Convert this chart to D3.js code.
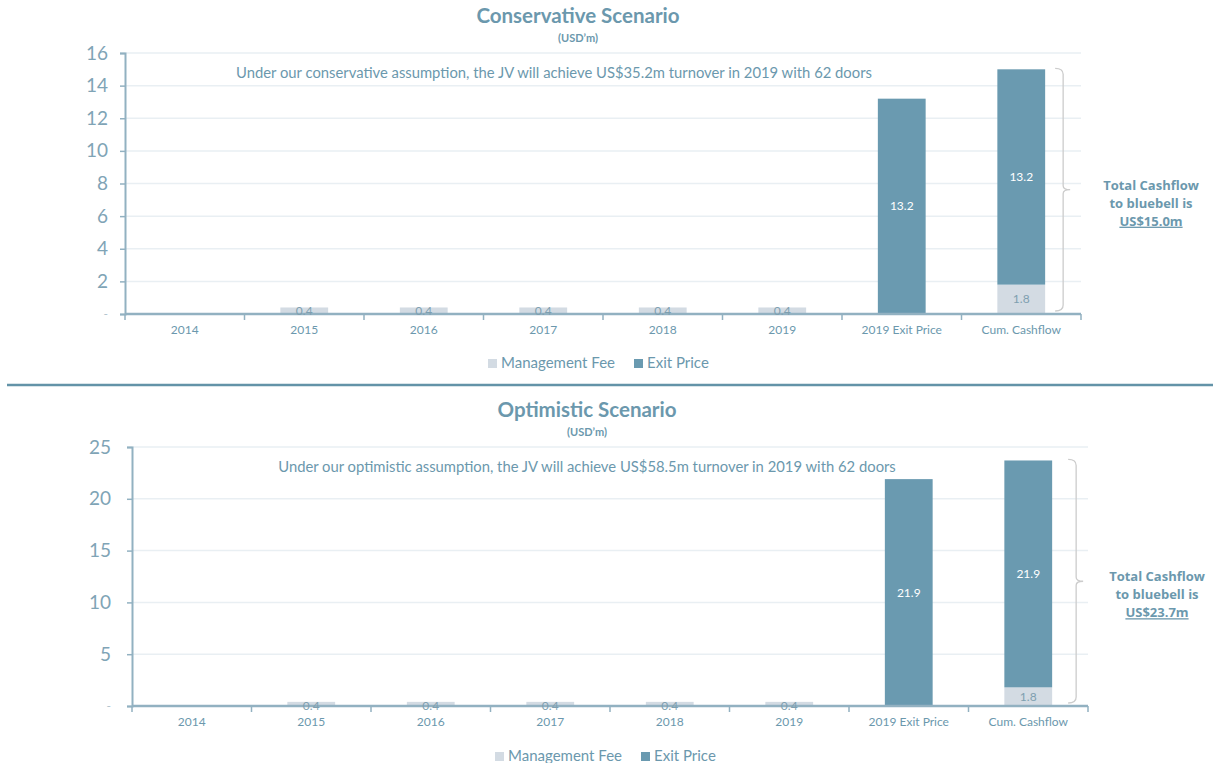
<!DOCTYPE html>
<html>
<head>
<meta charset="utf-8">
<script src="https://cdn.jsdelivr.net/npm/d3@7"></script>
<style>
  html, body { margin: 0; padding: 0; background: #ffffff; }
  svg { display: block; font-family: Lato, "Open Sans", sans-serif; }
</style>
</head>
<body>
<svg id="chart" width="1215" height="763"></svg>
<script>
// Categories shared by both scenarios
const categories = ["2014", "2015", "2016", "2017", "2018", "2019", "2019 Exit Price", "Cum. Cashflow"];

// Conservative scenario (USD'm)
const conservativeFee  = [0, 0.4, 0.4, 0.4, 0.4, 0.4, 0, 1.8];
const conservativeExit = [0, 0, 0, 0, 0, 0, 13.2, 13.2];
const conservativeTicks = [0, 2, 4, 6, 8, 10, 12, 14, 16];
const conservativeTotal = "US$15.0m";

// Optimistic scenario (USD'm)
const optimisticFee  = [0, 0.4, 0.4, 0.4, 0.4, 0.4, 0, 1.8];
const optimisticExit = [0, 0, 0, 0, 0, 0, 21.9, 21.9];
const optimisticTicks = [0, 5, 10, 15, 20, 25];
const optimisticTotal = "US$23.7m";

const seriesNames = ["Management Fee", "Exit Price"];

const COL_FEE = "#d3dbe3";
const COL_EXIT = "#6a9ab0";
const COL_TEXT = "#6b98ad";
const COL_AXIS = "#92b1c1";
const COL_GRID = "#e9eff3";

const svg = d3.select("#chart");

function drawPanel(cfg) {
  const g = svg.append("g");
  const x = d3.scaleBand()
    .domain(categories)
    .range([cfg.left, cfg.right])
    .paddingInner(0.6)
    .paddingOuter(0.3);
  const y = d3.scaleLinear()
    .domain([0, d3.max(cfg.ticks)])
    .range([cfg.bottom, cfg.top]);

  // Title and unit
  g.append("text").attr("x", cfg.titleX).attr("y", cfg.titleY)
    .attr("text-anchor", "middle").attr("font-size", 20.5).attr("font-weight", 700)
    .attr("fill", COL_TEXT).text(cfg.title);
  g.append("text").attr("x", cfg.titleX).attr("y", cfg.titleY + 19)
    .attr("text-anchor", "middle").attr("font-size", 11).attr("font-weight", 700)
    .attr("fill", COL_TEXT).text("(USD\u2019m)");

  // Gridlines
  g.append("g").selectAll("line").data(cfg.ticks.filter(t => t > 0)).join("line")
    .attr("x1", cfg.left).attr("x2", cfg.right)
    .attr("y1", d => y(d)).attr("y2", d => y(d))
    .attr("stroke", COL_GRID).attr("stroke-width", 1.5);

  // Y axis
  const yAxis = d3.axisLeft(y).tickValues(cfg.ticks)
    .tickFormat(d => d === 0 ? "-" : d3.format("d")(d))
    .tickSize(5).tickPadding(cfg.tickPad);
  const ya = g.append("g").attr("transform", `translate(${cfg.left},0)`).call(yAxis);
  ya.select(".domain").attr("stroke", COL_AXIS).attr("stroke-width", 2);
  ya.selectAll(".tick line").attr("stroke", COL_AXIS).attr("stroke-width", 1.5);
  ya.selectAll(".tick text").attr("fill", "#7fa4b6").attr("font-size", 19)
    .attr("font-family", "Lato, sans-serif")
    .filter(d => d === 0).attr("font-size", 12).attr("fill", "#b0c2cc");

  // Stacked bars
  const rows = categories.map((c, i) => ({ cat: c, fee: cfg.fee[i], exit: cfg.exit[i] }));
  const stack = d3.stack().keys(["fee", "exit"])(rows);
  const colors = { fee: COL_FEE, exit: COL_EXIT };
  stack.forEach(layer => {
    g.append("g").selectAll("rect").data(layer.filter(d => d[1] - d[0] > 0)).join("rect")
      .attr("x", d => x(d.data.cat))
      .attr("width", x.bandwidth())
      .attr("y", d => y(d[1]))
      .attr("height", d => y(d[0]) - y(d[1]))
      .attr("fill", colors[layer.key]);
  });

  // X axis
  const xa = g.append("g").attr("transform", `translate(0,${cfg.bottom})`);
  xa.append("line").attr("x1", cfg.left).attr("x2", cfg.right)
    .attr("stroke", COL_AXIS).attr("stroke-width", 2.5);
  const step = x.step();
  const bounds = d3.range(categories.length + 1).map(i => cfg.left + i * step);
  xa.selectAll("line.tk").data(bounds).join("line").attr("class", "tk")
    .attr("x1", d => d).attr("x2", d => d).attr("y1", 0).attr("y2", 6)
    .attr("stroke", COL_AXIS).attr("stroke-width", 1.5);
  xa.selectAll("text").data(categories).join("text")
    .attr("x", d => x(d) + x.bandwidth() / 2).attr("y", 20)
    .attr("text-anchor", "middle").attr("font-size", 12).attr("fill", COL_TEXT)
    .text(d => d);

  // Value labels
  stack.forEach(layer => {
    g.append("g").selectAll("text").data(layer.filter(d => d[1] - d[0] > 0)).join("text")
      .attr("x", d => x(d.data.cat) + x.bandwidth() / 2)
      .attr("y", d => {
        const h = y(d[0]) - y(d[1]);
        return h < 12 ? y(d[1]) + 8 : (y(d[0]) + y(d[1])) / 2 + 4;
      })
      .attr("text-anchor", "middle").attr("font-size", 12)
      .attr("fill", layer.key === "exit" ? "#ffffff" : "#7e9fb0")
      .text(d => d3.format(".1f")(d[1] - d[0]));
  });

  // Annotation line
  g.append("text").attr("x", cfg.noteX).attr("y", y(cfg.ticks[cfg.ticks.length - 1]) + 25)
    .attr("text-anchor", "middle").attr("font-size", 14.8).attr("fill", COL_TEXT)
    .text(cfg.note);

  // Brace around the cumulative bar
  const last = rows[rows.length - 1];
  const topY = y(last.fee + last.exit) - 1;
  const botY = cfg.bottom - 3;
  const bx = x("Cum. Cashflow") + x.bandwidth() + cfg.braceGap;
  const midY = (topY + botY) / 2;
  const path = d3.path();
  path.moveTo(bx - 8, topY);
  path.quadraticCurveTo(bx, topY, bx, topY + 6);
  path.lineTo(bx, midY - 4);
  path.quadraticCurveTo(bx, midY, bx + 7, midY);
  path.moveTo(bx + 7, midY);
  path.quadraticCurveTo(bx, midY, bx, midY + 4);
  path.lineTo(bx, botY - 6);
  path.quadraticCurveTo(bx, botY, bx - 8, botY);
  g.append("path").attr("d", path.toString()).attr("fill", "none")
    .attr("stroke", "#cccccc").attr("stroke-width", 1.3);

  const tb = g.append("text").attr("text-anchor", "middle").attr("font-size", 13)
    .attr("font-family", "'Open Sans', sans-serif")
    .attr("font-weight", 700).attr("fill", COL_TEXT);
  const tx = cfg.totalX;
  tb.append("tspan").attr("x", tx).attr("y", midY).text("Total Cashflow");
  tb.append("tspan").attr("x", tx).attr("y", midY + 18).text("to bluebell is");
  tb.append("tspan").attr("x", tx).attr("y", midY + 36)
    .attr("text-decoration", "underline").text(cfg.total);

  // Legend
  const lg = g.append("g");
  const items = [
    { name: seriesNames[0], color: COL_FEE, x: cfg.legendX },
    { name: seriesNames[1], color: COL_EXIT, x: cfg.legendX + 146 }
  ];
  items.forEach(it => {
    lg.append("rect").attr("x", it.x).attr("y", cfg.legendY - 9)
      .attr("width", 9).attr("height", 9).attr("fill", it.color);
    lg.append("text").attr("x", it.x + 13).attr("y", cfg.legendY)
      .attr("font-size", 15).attr("fill", COL_TEXT).text(it.name);
  });
}

drawPanel({
  title: "Conservative Scenario", titleX: 578, titleY: 23,
  left: 125, right: 1081, top: 53, bottom: 314,
  ticks: conservativeTicks, fee: conservativeFee, exit: conservativeExit,
  note: "Under our conservative assumption, the JV will achieve US$35.2m turnover in 2019 with 62 doors",
  noteX: 554, total: conservativeTotal, totalX: 1151, braceGap: 18,
  tickPad: 12, legendX: 488, legendY: 368
});

// Divider between the two scenarios
svg.append("line").attr("x1", 7).attr("x2", 1213).attr("y1", 385).attr("y2", 385)
  .attr("stroke", "#6393a8").attr("stroke-width", 2.5);

drawPanel({
  title: "Optimistic Scenario", titleX: 587, titleY: 417,
  left: 132, right: 1088, top: 447, bottom: 706,
  ticks: optimisticTicks, fee: optimisticFee, exit: optimisticExit,
  note: "Under our optimistic assumption, the JV will achieve US$58.5m turnover in 2019 with 62 doors",
  noteX: 587, total: optimisticTotal, totalX: 1157, braceGap: 24,
  tickPad: 16, legendX: 495, legendY: 761
});
</script>
</body>
</html>
